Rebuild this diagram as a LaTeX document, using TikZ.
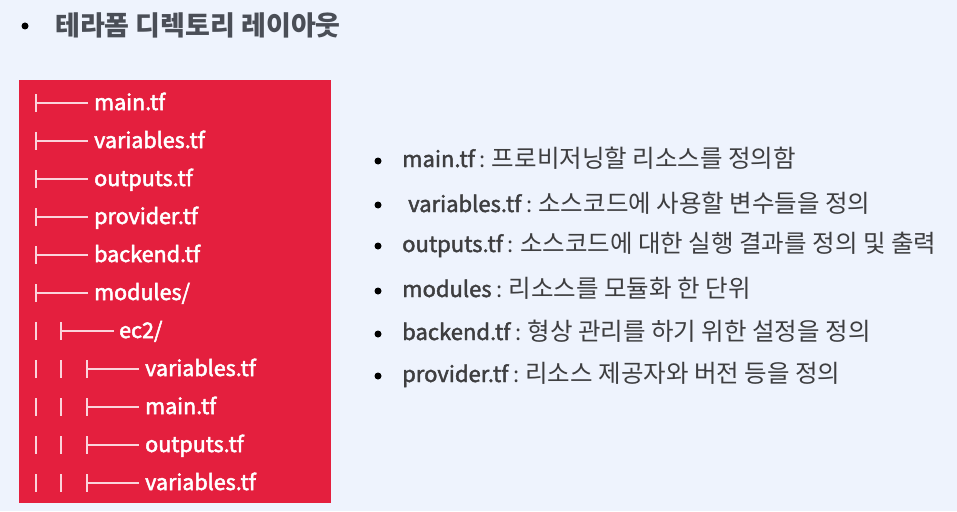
\documentclass[tikz,border=0pt]{standalone}
\usepackage{fontspec}
\setmainfont{Noto Sans CJK KR}
\newfontfamily\kr{Noto Sans CJK KR}
\newfontfamily\krmed[FakeBold=2]{Noto Sans CJK KR}
\newfontfamily\krtree[FakeBold=2.4]{Noto Sans CJK KR}
\definecolor{bgc}{HTML}{EEF3FD}
\definecolor{boxred}{HTML}{E41F3E}
\definecolor{titlec}{HTML}{4A4E57}
\definecolor{bodyc}{HTML}{3E3E40}
\definecolor{treeline}{HTML}{FBD3DB}
\newcommand\latinpart[1]{{\krmed\fontsize{22}{26}\selectfont #1}}
\tikzset{
  treetext/.style={anchor=base west, inner sep=0pt, text=white, font=\krtree\fontsize{21.5}{26}\selectfont},
  treebar/.style={draw=treeline, line width=1.9pt},
  desc/.style={anchor=base west, inner sep=0pt, text=bodyc, font=\kr\fontsize{24.5}{28}\selectfont},
}
\begin{document}
\begin{tikzpicture}[x=1pt,y=-1pt]
\fill[bgc] (0,0) rectangle (957,511);
\useasboundingbox (0,0) rectangle (957,511);
% title
\fill[black] (25,26) circle (3.5);
\node[anchor=base west, inner sep=0pt, text=titlec, font=\kr\bfseries\fontsize{27}{32}\selectfont] (title) at (55,36) {테라폼 디렉토리 레이아웃};
% red box
\fill[boxred] (19,80) rectangle (331,503);
% tree
\foreach \i/\lvl/\txt in {1/0/main.tf, 2/0/variables.tf, 3/0/outputs.tf, 4/0/provider.tf, 5/0/backend.tf, 6/0/{modules/}, 7/1/{ec2/}, 8/2/variables.tf, 9/2/main.tf, 10/2/outputs.tf, 11/2/variables.tf} {
  \pgfmathsetmacro\yy{103+38*(\i-1)}
  \ifcase\lvl
    \def\bx{36}\def\hx{88}\def\tx{94}
  \or
    \def\bx{61}\def\hx{114}\def\tx{119}
    \draw[treebar] (36,\yy-9) -- (36,\yy+9);
  \or
    \def\bx{87}\def\hx{139}\def\tx{145}
    \draw[treebar] (36,\yy-9) -- (36,\yy+9);
    \draw[treebar] (61,\yy-9) -- (61,\yy+9);
  \fi
  \node[treetext] (t\i) at (\tx,\yy+7) {\txt};
  \draw[treebar] (\bx,\yy-9) -- (\bx,\yy+9);
  \draw[treebar] (\bx,\yy) -- (\hx,\yy);
}
% descriptions
\foreach \i/\by/\ty/\tx/\nm/\ds in {
  1/161/167/402/main.tf/프로비저닝할 리소스를 정의함,
  2/205/212/408/variables.tf/소스코드에 사용할 변수들을 정의,
  3/246/252/402/outputs.tf/소스코드에 대한 실행 결과를 정의 및 출력,
  4/291/297/402/modules/리소스를 모듈화 한 단위,
  5/334/340/402/backend.tf/형상 관리를 하기 위한 설정을 정의,
  6/376/382/402/provider.tf/리소스 제공자와 버전 등을 정의} {
  \fill[black] (378,\by) circle (3.5);
  \node[desc] (d\i) at (\tx,\ty) {\latinpart{\nm}\hspace{5pt}{\fontsize{22}{26}\selectfont:}\hspace{6pt}\ds};
}
\end{tikzpicture}
\end{document}
